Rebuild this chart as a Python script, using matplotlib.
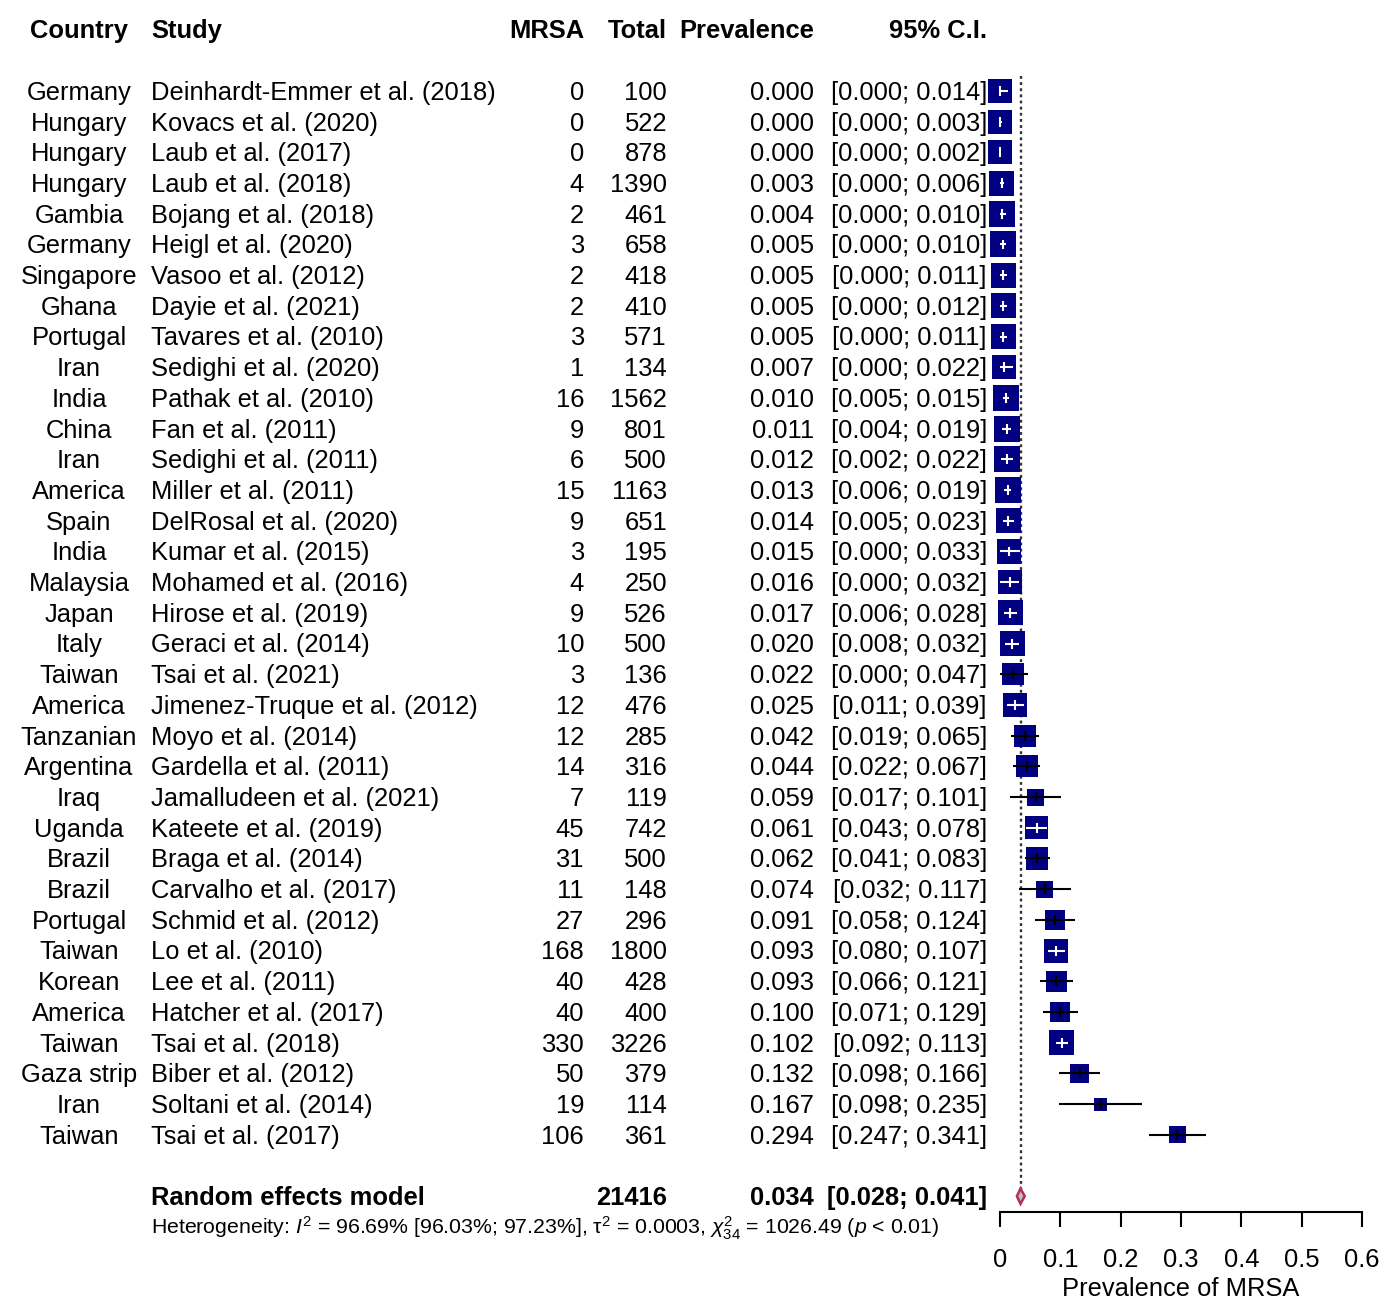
import matplotlib
matplotlib.use("Agg")
import matplotlib.pyplot as plt
import matplotlib.transforms as mtrans
import numpy as np

plt.rcParams['font.family'] = ['Liberation Sans', 'DejaVu Sans']
plt.rcParams['mathtext.fontset'] = 'custom'
plt.rcParams['mathtext.rm'] = 'Liberation Sans'
plt.rcParams['mathtext.it'] = 'Liberation Sans:italic'

country = ["Germany", "Hungary", "Hungary", "Hungary", "Gambia", "Germany", "Singapore",
           "Ghana", "Portugal", "Iran", "India", "China", "Iran", "America", "Spain", "India",
           "Malaysia", "Japan", "Italy", "Taiwan", "America", "Tanzanian", "Argentina", "Iraq",
           "Uganda", "Brazil", "Brazil", "Portugal", "Taiwan", "Korean", "America", "Taiwan",
           "Gaza strip", "Iran", "Taiwan"]
study = ["Deinhardt-Emmer et al. (2018)", "Kovacs et al. (2020)", "Laub et al. (2017)",
         "Laub et al. (2018)", "Bojang et al. (2018)", "Heigl et al. (2020)", "Vasoo et al. (2012)",
         "Dayie et al. (2021)", "Tavares et al. (2010)", "Sedighi et al. (2020)",
         "Pathak et al. (2010)", "Fan et al. (2011)", "Sedighi et al. (2011)", "Miller et al. (2011)",
         "DelRosal et al. (2020)", "Kumar et al. (2015)", "Mohamed et al. (2016)",
         "Hirose et al. (2019)", "Geraci et al. (2014)", "Tsai et al. (2021)",
         "Jimenez-Truque et al. (2012)", "Moyo et al. (2014)", "Gardella et al. (2011)",
         "Jamalludeen et al. (2021)", "Kateete et al. (2019)", "Braga et al. (2014)",
         "Carvalho et al. (2017)", "Schmid et al. (2012)", "Lo et al. (2010)", "Lee et al. (2011)",
         "Hatcher et al. (2017)", "Tsai et al. (2018)", "Biber et al. (2012)",
         "Soltani et al. (2014)", "Tsai et al. (2017)"]
mrsa = [0, 0, 0, 4, 2, 3, 2, 2, 3, 1, 16, 9, 6, 15, 9, 3, 4, 9, 10, 3, 12, 12, 14, 7, 45, 31,
        11, 27, 168, 40, 40, 330, 50, 19, 106]
total = [100, 522, 878, 1390, 461, 658, 418, 410, 571, 134, 1562, 801, 500, 1163, 651, 195,
         250, 526, 500, 136, 476, 285, 316, 119, 742, 500, 148, 296, 1800, 428, 400, 3226, 379,
         114, 361]
prev = [0.000, 0.000, 0.000, 0.003, 0.004, 0.005, 0.005, 0.005, 0.005, 0.007, 0.010, 0.011,
        0.012, 0.013, 0.014, 0.015, 0.016, 0.017, 0.020, 0.022, 0.025, 0.042, 0.044, 0.059,
        0.061, 0.062, 0.074, 0.091, 0.093, 0.093, 0.100, 0.102, 0.132, 0.167, 0.294]
lower = [0.000, 0.000, 0.000, 0.000, 0.000, 0.000, 0.000, 0.000, 0.000, 0.000, 0.005, 0.004,
         0.002, 0.006, 0.005, 0.000, 0.000, 0.006, 0.008, 0.000, 0.011, 0.019, 0.022, 0.017,
         0.043, 0.041, 0.032, 0.058, 0.080, 0.066, 0.071, 0.092, 0.098, 0.098, 0.247]
upper = [0.014, 0.003, 0.002, 0.006, 0.010, 0.010, 0.011, 0.012, 0.011, 0.022, 0.015, 0.019,
         0.022, 0.019, 0.023, 0.033, 0.032, 0.028, 0.032, 0.047, 0.039, 0.065, 0.067, 0.101,
         0.078, 0.083, 0.117, 0.124, 0.107, 0.121, 0.129, 0.113, 0.166, 0.235, 0.341]
# random effects weights (%)
weight = [3.07, 3.07, 3.07, 3.33, 3.60, 3.60, 3.33, 3.33, 3.33, 3.07, 3.60, 3.60, 3.60, 3.60,
          3.33, 3.07, 3.07, 3.33, 3.33, 2.58, 3.07, 2.58, 2.58, 1.54, 2.82, 2.58, 1.54, 2.13,
          3.07, 2.35, 2.13, 3.33, 1.92, 0.90, 1.54]

pooled_total = 21416
pooled = 0.034
pooled_lo = 0.028
pooled_hi = 0.041
het_text = (r"Heterogeneity: $I^2$ = 96.69% [96.03%; 97.23%], τ$^2$ = 0.0003, "
            r"$\chi^2_{34}$ = 1026.49 ($p$ < 0.01)")

W, H = 1382, 1302
fig = plt.figure(figsize=(W / 100, H / 100), dpi=100)

row0, rowh = 91, 30.7
def py(r):
    return 1 - (row0 + (r - 1) * rowh) / H

ax = fig.add_axes([1000 / W, py(37.5), 362 / W, py(0.5) - py(37.5)])
ax.set_xlim(0, 0.6)
ax.set_ylim(37.5, 0.5)
for s in ['left', 'right', 'top']:
    ax.spines[s].set_visible(False)
ax.spines['bottom'].set_linewidth(1.5)
ax.set_yticks([])
ax.set_xticks(np.arange(0, 0.61, 0.1))
ax.set_xticklabels(["0", "0.1", "0.2", "0.3", "0.4", "0.5", "0.6"], fontsize=18.4)
ax.tick_params(axis='x', direction='out', length=11, width=1.5, pad=15)
ax.set_xlabel("Prevalence of MRSA", fontsize=18.4, labelpad=4)

n = len(prev)
rows = np.arange(1, n + 1)
ppu = 362 / 0.6  # pixels per unit on x

# reference line
ax.vlines(pooled, 0.5, 37 - 0.25, colors='#333333', linestyles=(0, (1.2, 1.4)), lw=1.7, zorder=1)

side_px = 26 * np.sqrt(np.array(weight) / 3.6)
ax.scatter(prev, rows, marker='s', s=(side_px * 0.72) ** 2, color='#000080',
           edgecolors='none', zorder=2, clip_on=False)
for i in range(n):
    half = side_px[i] / 2 / ppu
    inside = lower[i] >= prev[i] - half and upper[i] <= prev[i] + half
    c = 'white' if inside else 'black'
    ax.plot([lower[i], upper[i]], [rows[i], rows[i]], color=c, lw=1.5, zorder=3,
            solid_capstyle='butt', clip_on=False)
    ax.plot([prev[i], prev[i]], [rows[i] - 0.16, rows[i] + 0.16], color=c, lw=1.5, zorder=3,
            solid_capstyle='butt', clip_on=False)

# pooled diamond
ax.fill([pooled_lo, pooled, pooled_hi, pooled], [37, 37 - 0.25, 37, 37 + 0.25],
        facecolor='#BEBEBE', edgecolor='#B03060', lw=1.8, zorder=3, clip_on=False)

tr = mtrans.blended_transform_factory(fig.transFigure, ax.transData)
fs = 18.4
def col(x, r, txt, ha, bold=False, size=fs):
    ax.text(x / W, r + 0.06, txt, transform=tr, ha=ha, va='center', fontsize=size,
            fontweight='bold' if bold else 'normal', clip_on=False)

# header
col(79, -1, "Country", 'center', True)
col(151, -1, "Study", 'left', True)
col(584, -1, "MRSA", 'right', True)
col(667, -1, "Total", 'right', True)
col(814, -1, "Prevalence", 'right', True)
col(987, -1, "95% C.I.", 'right', True)

for i in range(n):
    r = rows[i]
    col(79, r, country[i], 'center')
    col(151, r, study[i], 'left')
    col(584, r, str(mrsa[i]), 'right')
    col(667, r, str(total[i]), 'right')
    col(814, r, f"{prev[i]:.3f}", 'right')
    col(987, r, f"[{lower[i]:.3f}; {upper[i]:.3f}]", 'right')

col(151, 37, "Random effects model", 'left', True)
col(667, 37, str(pooled_total), 'right', True)
col(814, 37, f"{pooled:.3f}", 'right', True)
col(987, 37, f"[{pooled_lo:.3f}; {pooled_hi:.3f}]", 'right', True)
col(151, 38.0, het_text, 'left', size=15.3)

fig.savefig("out.png", dpi=100)
